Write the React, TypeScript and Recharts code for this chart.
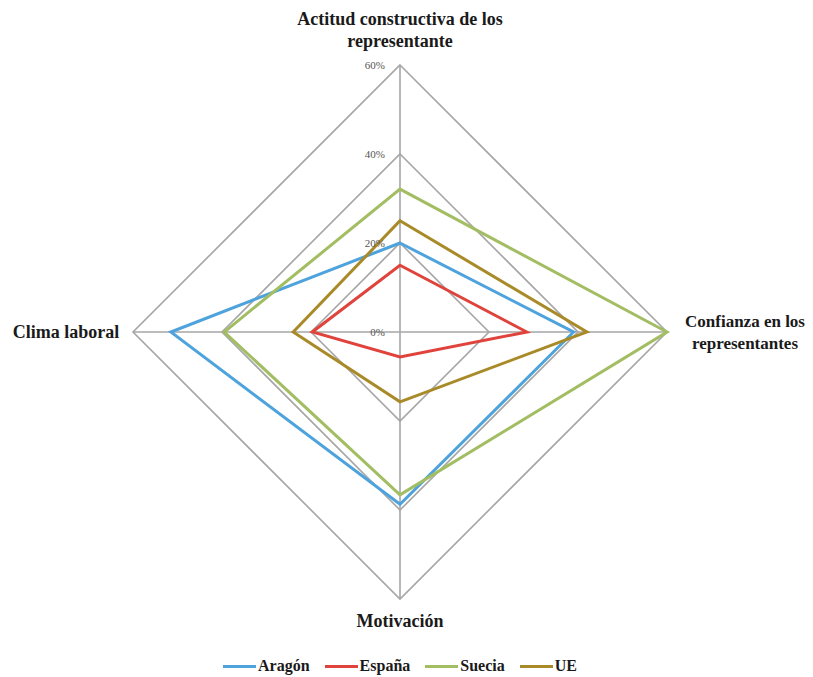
import { RadarChart, Radar, PolarGrid, PolarAngleAxis, PolarRadiusAxis, Legend } from 'recharts';

// Dimensions, clockwise from the top
const dimensions = [
  'Actitud constructiva de los representante',
  'Confianza en los representantes',
  'Motivación',
  'Clima laboral',
];
const dimensionLines = [
  ['Actitud constructiva de los', 'representante'],
  ['Confianza en los', 'representantes'],
  ['Motivación'],
  ['Clima laboral'],
];

// Shares per region, in percent
const aragon = [20, 39, 38.7, 51.5];
const espana = [15, 28.5, 5.6, 19.7];
const suecia = [32.1, 60, 36.6, 39.5];
const ue = [25, 42, 15.7, 24];

const radiusTicks = [0, 20, 40, 60];

const seriesList = [
  { key: 'aragon', name: 'Aragón', color: '#4ea3dc' },
  { key: 'espana', name: 'España', color: '#e0433b' },
  { key: 'suecia', name: 'Suecia', color: '#a2bd62' },
  { key: 'ue', name: 'UE', color: '#a88a28' },
];

const data = dimensions.map((dim, i) => ({
  dim,
  aragon: aragon[i],
  espana: espana[i],
  suecia: suecia[i],
  ue: ue[i],
}));

const W = 797;
const H = 669;
const CX = 392;
const CY = 324;
const R = 267;
const FONT = '"Liberation Serif", "DejaVu Serif", serif';

function AngleTick(props: any) {
  const { index } = props;
  const lines = dimensionLines[index] || [];
  let x = CX;
  let y = CY;
  let size = 18;
  if (index === 0) {
    y = CY - R - 40;
  } else if (index === 1) {
    x = CX + R + 78;
    y = CY - 5;
    size = 17;
  } else if (index === 2) {
    y = CY + R + 28;
  } else {
    x = CX - R - 67;
    y = CY + 6;
  }
  return (
    <text x={x} y={y} textAnchor="middle" fontFamily={FONT} fontSize={size} fontWeight="bold" fill="#1a1a1a">
      {lines.map((l, i) => (
        <tspan key={i} x={x} dy={i === 0 ? 0 : 22}>
          {l}
        </tspan>
      ))}
    </text>
  );
}

function RadiusTick(props: any) {
  const { x, y, payload } = props;
  return (
    <text x={x - 15} y={y + 4} textAnchor="end" fontFamily={FONT} fontSize={11} fill="#555">
      {`${payload.value}%`}
    </text>
  );
}

function LegendContent() {
  return (
    <div style={{ display: 'flex', justifyContent: 'center', gap: 15, fontFamily: FONT, fontWeight: 'bold', fontSize: 16, color: '#1a1a1a' }}>
      {seriesList.map((s) => (
        <div key={s.key} style={{ display: 'flex', alignItems: 'center' }}>
          <span style={{ display: 'inline-block', width: 33, height: 3, background: s.color, marginRight: 2 }} />
          <span>{s.name}</span>
        </div>
      ))}
    </div>
  );
}

export default function App() {
  return (
    <div style={{ width: W, height: H, background: '#fff' }}>
      <RadarChart width={W} height={H} data={data} cx={CX} cy={CY} outerRadius={R} margin={{ top: 0, right: 0, bottom: 0, left: 0 }}>
        <PolarGrid gridType="polygon" stroke="#a6a6a6" strokeWidth={1.6} />
        <PolarAngleAxis dataKey="dim" tick={<AngleTick />} tickLine={false} axisLine={false} />
        <PolarRadiusAxis
          type="number"
          angle={90}
          domain={[0, 60]}
          allowDataOverflow
          tickCount={4}
          ticks={radiusTicks}
          tick={<RadiusTick />}
          axisLine={false}
          tickLine={false}
        />
        {seriesList.map((s) => (
          <Radar
            key={s.key}
            dataKey={s.key}
            name={s.name}
            stroke={s.color}
            strokeWidth={3}
            fill="none"
            fillOpacity={0}
            dot={false}
            isAnimationActive={false}
          />
        ))}
        <Legend
          verticalAlign="bottom"
          content={<LegendContent />}
          wrapperStyle={{ left: 0, width: CX * 2, bottom: 2 }}
        />
      </RadarChart>
    </div>
  );
}
